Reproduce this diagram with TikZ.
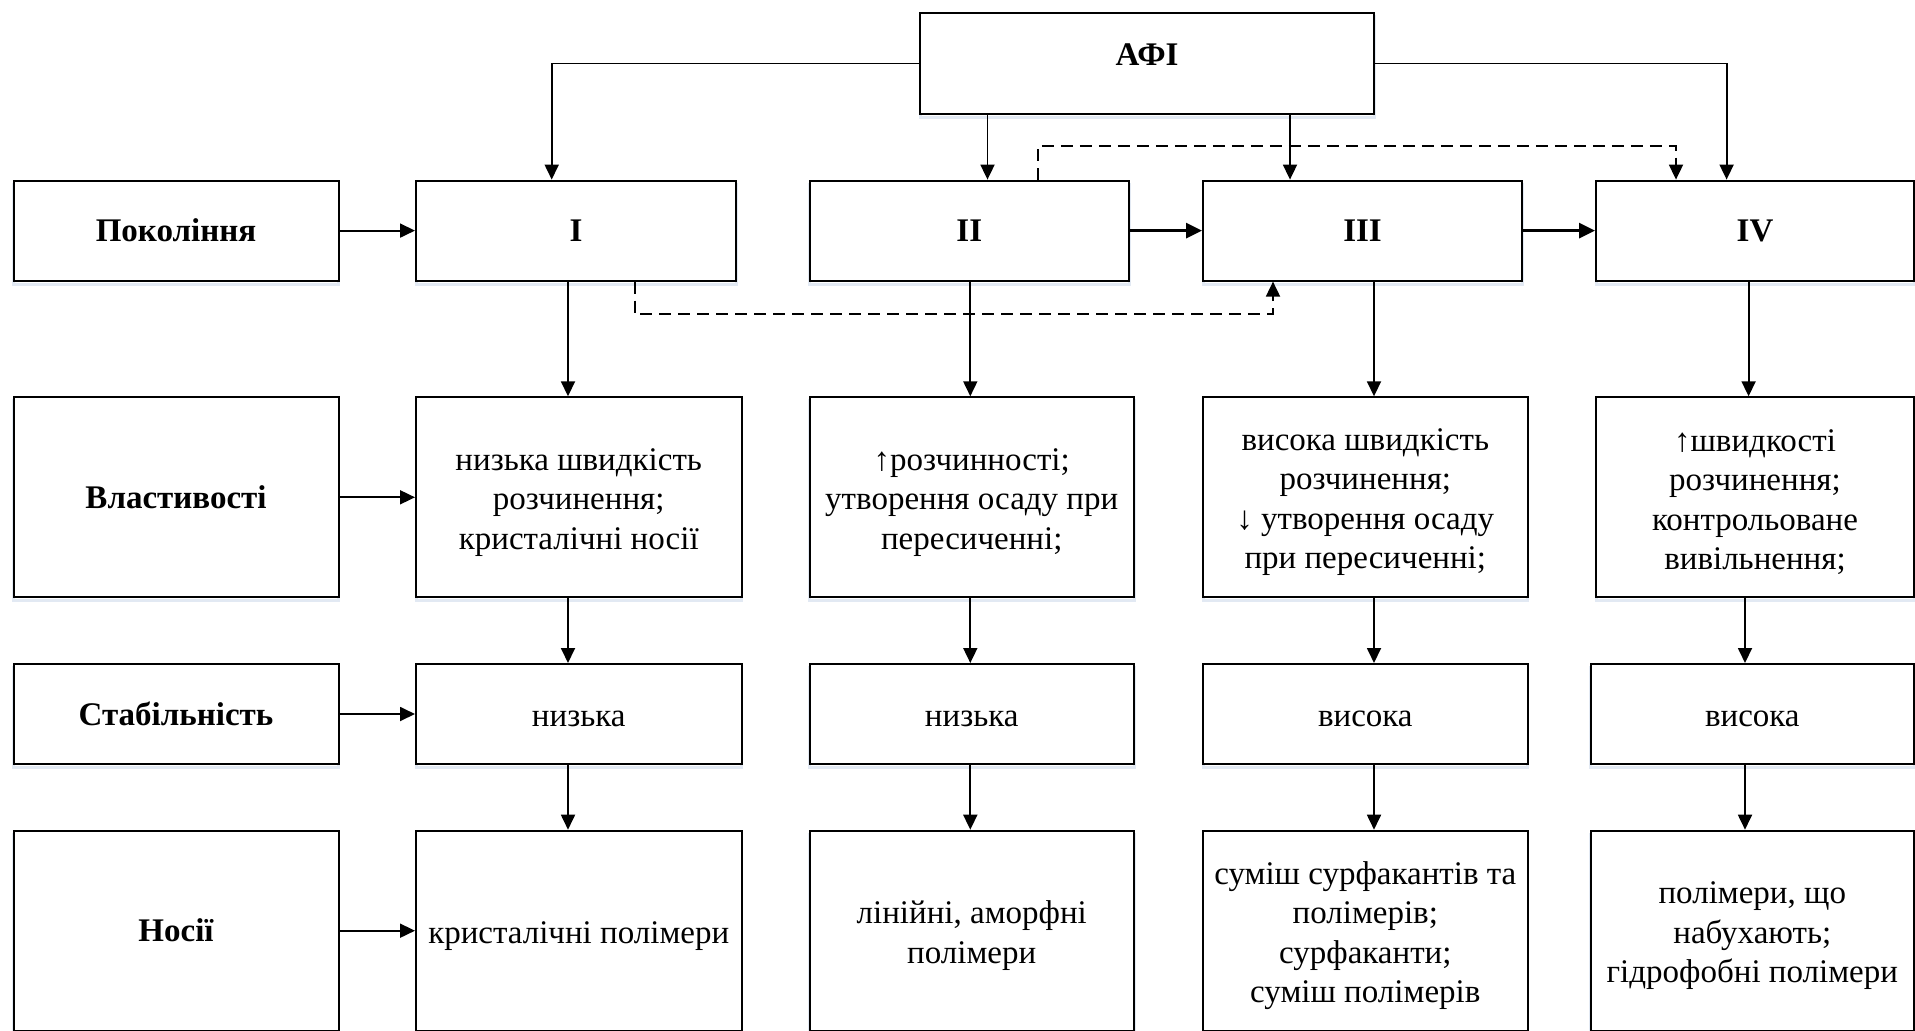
\documentclass[tikz,border=0pt]{standalone}
\usepackage{fontspec}
\setmainfont{Liberation Serif}
\usetikzlibrary{arrows.meta}

\definecolor{edgeshade}{RGB}{226,233,243}

\tikzset{
  frame/.style={draw=black, line width=2pt, fill=white, inner sep=4pt,
    preaction={draw=edgeshade, line width=3pt, transform canvas={yshift=-3.5pt}}},
  headbox/.style={frame, align=center, font=\fontsize{33}{39.5}\selectfont\bfseries},
  celltext/.style={align=center, inner sep=0pt, yshift=-5pt,
    font=\fontsize{33}{39.5}\selectfont},
  cell/.style={frame, label={[celltext]center:{#1}}},
  conn/.style={line width=1.8pt, -{Triangle[length=15pt,width=14pt]}},
  thickconn/.style={line width=2.8pt, -{Triangle[length=16pt,width=15pt]}},
  dashconn/.style={conn, dash pattern=on 12pt off 7pt},
}

\begin{document}
\begin{tikzpicture}[x=1pt, y=-1pt]
\useasboundingbox (0,0) rectangle (1915,1031);

% top node
\node[headbox, minimum width=454pt, minimum height=100.4pt] (afi) at (1147,63.5) {};
\node[font=\fontsize{33}{39.5}\selectfont\bfseries] (afitext) at (1147,55) {АФІ};

% row labels
\node[headbox, minimum width=325pt, minimum height=100pt] (lab1) at (176,230.6) {Покоління};
\node[headbox, minimum width=325pt, minimum height=200pt] (lab2) at (176,497.3) {Властивості};
\node[headbox, minimum width=325pt, minimum height=100pt] (lab3) at (176,714) {Стабільність};
\node[headbox, minimum width=325pt, minimum height=200pt] (lab4) at (176,930.7) {Носії};

% generations
\node[headbox, minimum width=320pt, minimum height=100pt] (g1) at (576,230.6) {I};
\node[headbox, minimum width=319.5pt, minimum height=100pt] (g2) at (969.25,230.6) {II};
\node[headbox, minimum width=319pt, minimum height=100pt] (g3) at (1362.5,230.6) {III};
\node[headbox, minimum width=318pt, minimum height=100pt] (g4) at (1755,230.6) {IV};

% properties
\node[cell={низька швидкість\\розчинення;\\кристалічні носії},
  minimum width=325.5pt, minimum height=200pt] (p1) at (578.75,497.3) {};
\node[cell={↑розчинності;\\утворення осаду при\\пересиченні;},
  minimum width=324.5pt, minimum height=200pt] (p2) at (971.75,497.3) {};
\node[cell={висока швидкість\\розчинення;\\↓ утворення осаду\\при пересиченні;},
  minimum width=324.6pt, minimum height=200pt] (p3) at (1365.3,497.3) {};
\node[cell={↑швидкості\\розчинення;\\контрольоване\\вивільнення;},
  minimum width=318pt, minimum height=200pt] (p4) at (1755,497.3) {};

% stability
\node[cell={низька}, minimum width=325.5pt, minimum height=100pt] (s1) at (578.75,714) {};
\node[cell={низька}, minimum width=324.5pt, minimum height=100pt] (s2) at (971.75,714) {};
\node[cell={висока}, minimum width=324.6pt, minimum height=100pt] (s3) at (1365.3,714) {};
\node[cell={висока}, minimum width=323.4pt, minimum height=100pt] (s4) at (1752.3,714) {};

% carriers
\node[cell={кристалічні полімери},
  minimum width=325.5pt, minimum height=200pt] (c1) at (578.75,930.7) {};
\node[cell={лінійні, аморфні\\полімери},
  minimum width=324.5pt, minimum height=200pt] (c2) at (971.75,930.7) {};
\node[cell={суміш сурфакантів та\\полімерів;\\сурфаканти;\\суміш полімерів},
  minimum width=324.6pt, minimum height=200pt] (c3) at (1365.3,930.7) {};
\node[cell={полімери, що\\набухають;\\гідрофобні полімери},
  minimum width=323.4pt, minimum height=200pt] (c4) at (1752.3,930.7) {};

% guide positions for the connectors
\coordinate (aI) at (551.7,0);
\coordinate (aII) at (987.5,0);
\coordinate (aIII) at (1290,0);
\coordinate (aIV) at (1726.6,0);
\coordinate (vI) at (568,0);
\coordinate (vII) at (970.3,0);
\coordinate (vIII) at (1374,0);
\coordinate (vIVa) at (1748.6,0);
\coordinate (vIV) at (1745,0);
\coordinate (dI) at (635,0);
\coordinate (dIII) at (1273,0);
\coordinate (dII) at (1037.7,0);
\coordinate (dIV) at (1676,0);
\coordinate (lowrun) at (0,314.3);
\coordinate (highrun) at (0,145.7);

% from the top node
\draw[conn] (afi.west) -| (aI |- g1.north);
\draw[conn] (afi.south -| aII) -- (aII |- g2.north);
\draw[conn] (afi.south -| aIII) -- (aIII |- g3.north);
\draw[conn] (afi.east) -| (aIV |- g4.north);

% row labels to first column
\draw[conn] (lab1.east) -- (g1.west);
\draw[conn] (lab2.east) -- (p1.west);
\draw[conn] (lab3.east) -- (s1.west);
\draw[conn] (lab4.east) -- (c1.west);

% generation sequence
\draw[thickconn] (g2.east) -- (g3.west);
\draw[thickconn] (g3.east) -- (g4.west);

% columns
\draw[conn] (g1.south -| vI) -- (p1.north -| vI);
\draw[conn] (p1.south -| vI) -- (s1.north -| vI);
\draw[conn] (s1.south -| vI) -- (c1.north -| vI);

\draw[conn] (g2.south -| vII) -- (p2.north -| vII);
\draw[conn] (p2.south -| vII) -- (s2.north -| vII);
\draw[conn] (s2.south -| vII) -- (c2.north -| vII);

\draw[conn] (g3.south -| vIII) -- (p3.north -| vIII);
\draw[conn] (p3.south -| vIII) -- (s3.north -| vIII);
\draw[conn] (s3.south -| vIII) -- (c3.north -| vIII);

\draw[conn] (g4.south -| vIVa) -- (p4.north -| vIVa);
\draw[conn] (p4.south -| vIV) -- (s4.north -| vIV);
\draw[conn] (s4.south -| vIV) -- (c4.north -| vIV);

% dashed links
\draw[dashconn] (g1.south -| dI) -- (dI |- lowrun) -| (g3.south -| dIII);
\draw[dashconn] (g2.north -| dII) -- (dII |- highrun) -| (g4.north -| dIV);
\end{tikzpicture}
\end{document}
